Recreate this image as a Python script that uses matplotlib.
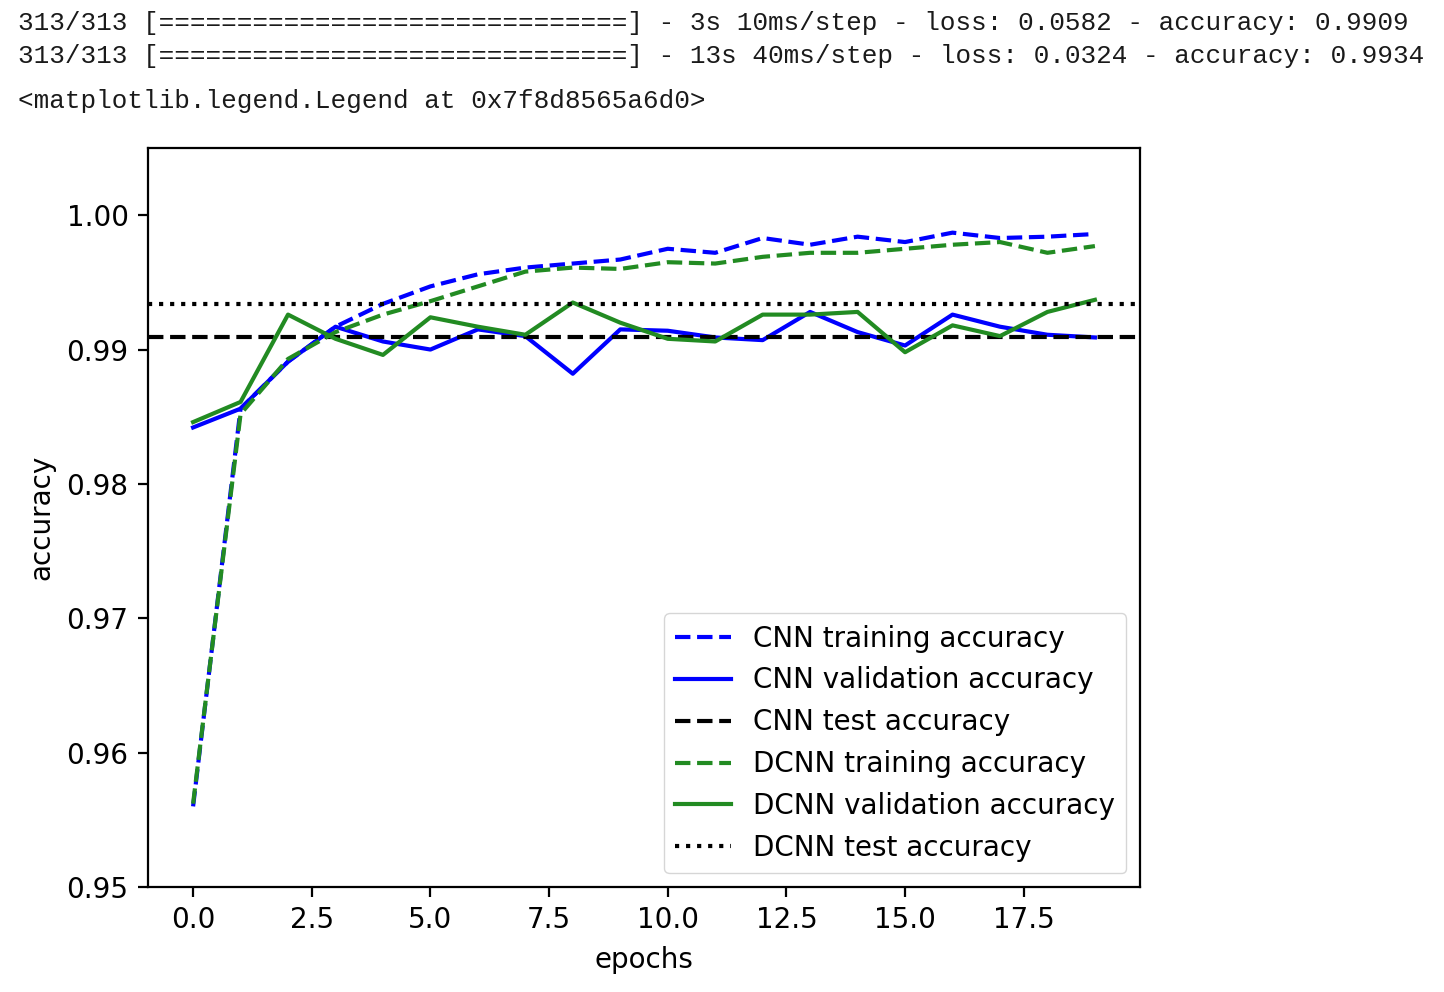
import numpy as np
import matplotlib
matplotlib.use("Agg")
import matplotlib.pyplot as plt

# notebook output lines above the figure
log_lines = [
    "313/313 [==============================] - 3s 10ms/step - loss: 0.0582 - accuracy: 0.9909",
    "313/313 [==============================] - 13s 40ms/step - loss: 0.0324 - accuracy: 0.9934",
]
repr_line = "<matplotlib.legend.Legend at 0x7f8d8565a6d0>"

epochs = np.arange(20)

cnn_train = [0.9560, 0.9856, 0.9891, 0.9917, 0.9934, 0.9947, 0.9956, 0.9961, 0.9964, 0.9967,
             0.9975, 0.9972, 0.9983, 0.9978, 0.9984, 0.9980, 0.9987, 0.9983, 0.9984, 0.9986]
cnn_val = [0.9842, 0.9856, 0.9891, 0.9917, 0.9906, 0.9900, 0.9915, 0.9910, 0.9882, 0.9915,
           0.9914, 0.9909, 0.9907, 0.9928, 0.9913, 0.9903, 0.9926, 0.9917, 0.9911, 0.9909]
cnn_test = 0.9909

dcnn_train = [0.9562, 0.9852, 0.9893, 0.9913, 0.9926, 0.9936, 0.9947, 0.9958, 0.9961, 0.9960,
              0.9965, 0.9964, 0.9969, 0.9972, 0.9972, 0.9975, 0.9978, 0.9980, 0.9972, 0.9977]
dcnn_val = [0.9846, 0.9861, 0.9926, 0.9908, 0.9896, 0.9924, 0.9917, 0.9911, 0.9935, 0.9920,
            0.9908, 0.9906, 0.9926, 0.9926, 0.9928, 0.9898, 0.9918, 0.9910, 0.9928, 0.9937]
dcnn_test = 0.9934

green = "forestgreen"
S = 2.0  # scale factor vs. default rc sizes

plt.rcParams["font.family"] = "DejaVu Sans"
fig = plt.figure(figsize=(14.44, 9.92), dpi=100)

mono = dict(family="Liberation Mono", fontsize=18.7, color="#1a1a1a")
fig.text(18 / 1444, 1 - 30 / 992, log_lines[0], va="baseline", ha="left", **mono)
fig.text(18 / 1444, 1 - 63 / 992, log_lines[1], va="baseline", ha="left", **mono)
fig.text(18 / 1444, 1 - 108 / 992, repr_line, va="baseline", ha="left", **mono)

ax = fig.add_axes([148 / 1444, 105 / 992, 992 / 1444, 739 / 992])

lw = 1.5 * S
ax.plot(epochs, cnn_train, "--", color="b", lw=lw, label="CNN training accuracy")
ax.plot(epochs, cnn_val, "-", color="b", lw=lw, label="CNN validation accuracy")
ax.axhline(cnn_test, color="k", ls="--", lw=lw, label="CNN test accuracy")
ax.plot(epochs, dcnn_train, "--", color=green, lw=lw, label="DCNN training accuracy")
ax.plot(epochs, dcnn_val, "-", color=green, lw=lw, label="DCNN validation accuracy")
ax.axhline(dcnn_test, color="k", ls=":", lw=lw, label="DCNN test accuracy")

ax.set_ylim(0.95, 1.005)
ax.set_xlim(-0.95, 19.95)
ax.set_xlabel("epochs", fontsize=10 * S, labelpad=4 * S)
ax.set_ylabel("accuracy", fontsize=10 * S, labelpad=4 * S)
ax.tick_params(labelsize=10 * S, length=3.5 * S, width=0.8 * S, pad=3.5 * S)
for sp in ax.spines.values():
    sp.set_linewidth(0.8 * S)

ax.legend(loc="lower right", fontsize=10 * S)

fig.savefig("out.png", dpi=100)
